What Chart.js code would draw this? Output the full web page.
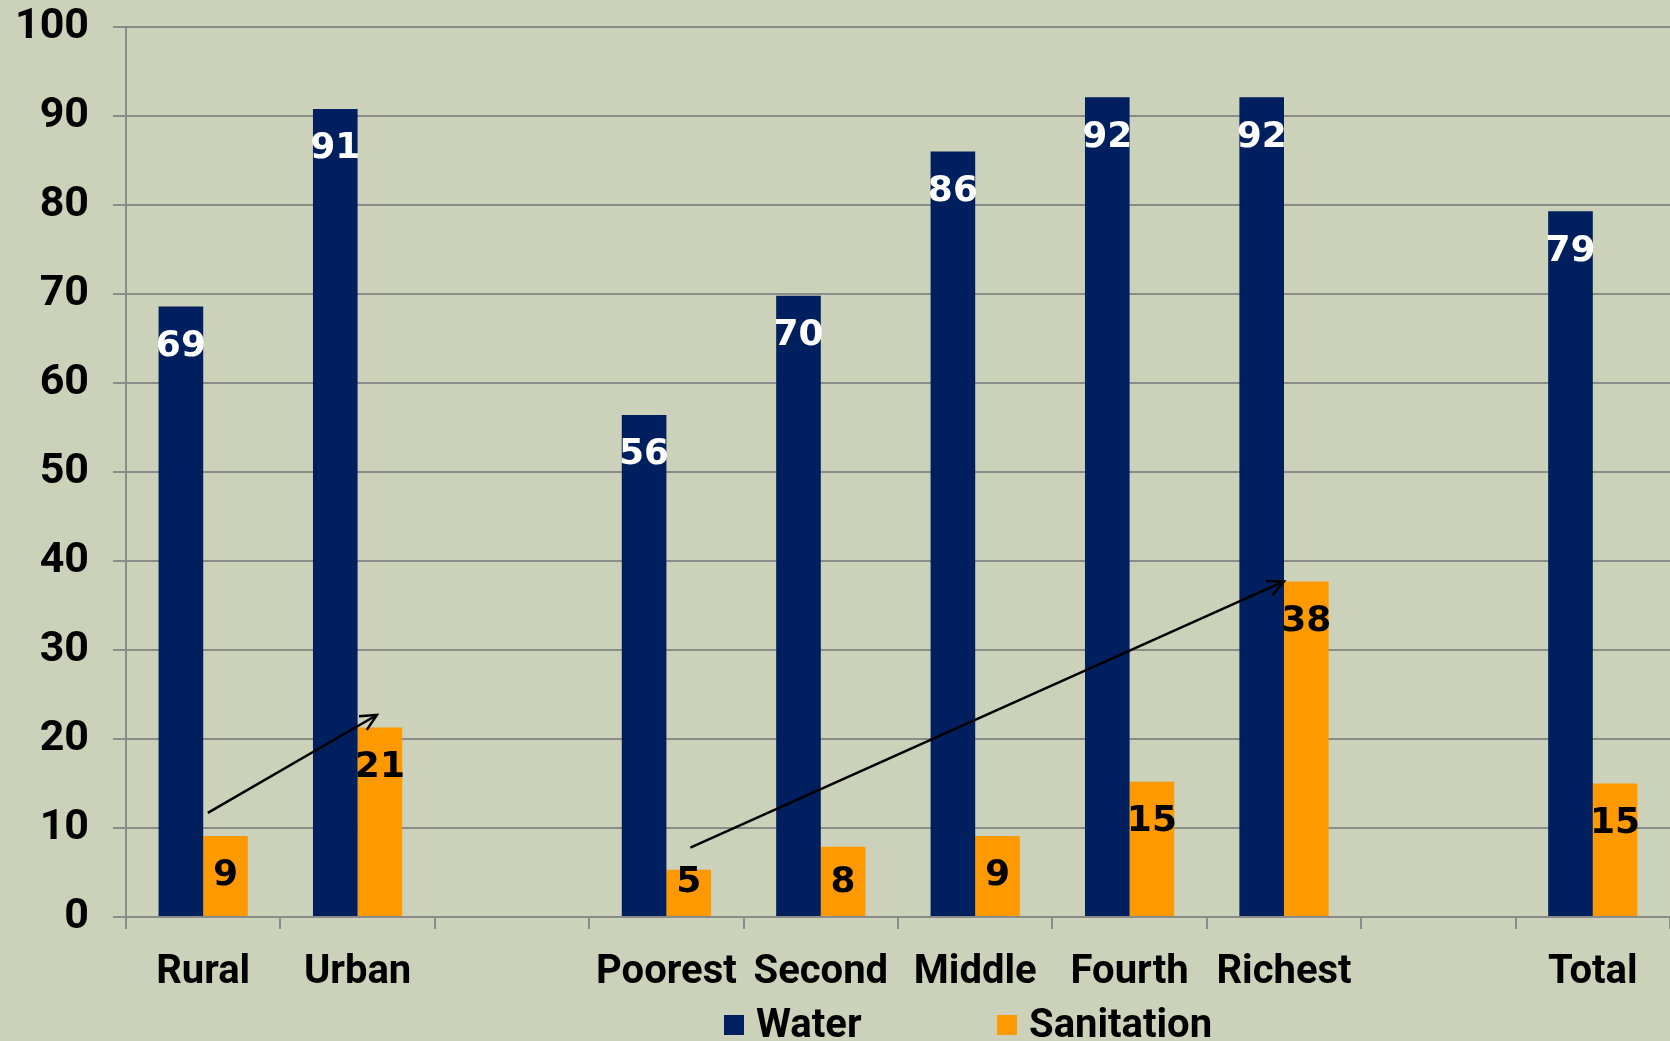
<!DOCTYPE html>
<html>
<head>
<meta charset="utf-8">
<script src="https://cdn.jsdelivr.net/npm/chart.js@4.4.1/dist/chart.umd.min.js"></script>
<style>
  html, body { margin: 0; padding: 0; background: #CCD1B9; overflow: hidden; }
  #wrap { width: 1670px; height: 1041px; position: relative; }
</style>
</head>
<body>
<div id="wrap"><canvas id="accessChart"></canvas></div>
<script>
// Categories (blank slots are the gaps between groups)
const categories = ['Rural', 'Urban', '', 'Poorest', 'Second', 'Middle', 'Fourth', 'Richest', '', 'Total'];

// Series values (%)
const waterValues = [68.6, 90.8, null, 56.4, 69.8, 86.0, 92.1, 92.1, null, 79.3];
const sanitationValues = [9.1, 21.3, null, 5.3, 7.9, 9.1, 15.2, 37.7, null, 15.0];

// Y axis range
const yMin = 0;
const yMax = 100;
const yStep = 10;

// Arrows: [category index (fractional), value]
const arrowStarts = [[0.03, 11.7], [3.155, 7.8]];
const arrowEnds = [[1.125, 22.7], [7.0, 37.7]];

const waterColor = '#001F5F';
const sanColor = '#FF9900';
const gridColor = '#8A8C88';
const xFont = { family: 'Roboto', size: 40, weight: 'bold' };
const yFont = { family: 'Roboto', size: 43, weight: 'bold' };

// Value labels inside the top of each bar
const barLabels = {
  id: 'barLabels',
  afterDatasetsDraw(chart) {
    const ctx = chart.ctx;
    const base = chart.scales.y.getPixelForValue(0);
    ctx.save();
    ctx.font = 'bold 36px "DejaVu Sans"';
    ctx.textAlign = 'center';
    ctx.textBaseline = 'middle';
    chart.data.datasets.forEach((ds, i) => {
      const meta = chart.getDatasetMeta(i);
      ctx.fillStyle = i === 0 ? '#FFFFFF' : '#000000';
      meta.data.forEach((bar, j) => {
        const v = ds.data[j];
        if (v == null) return;
        const ly = Math.min(bar.y + 40, base - 34);
        ctx.fillText(Math.round(v), bar.x, ly);
      });
    });
    ctx.restore();
  }
};

// Trend arrows
const trendArrows = {
  id: 'trendArrows',
  afterDatasetsDraw(chart) {
    const ctx = chart.ctx;
    const x = chart.scales.x;
    const y = chart.scales.y;
    ctx.save();
    ctx.strokeStyle = '#000';
    ctx.lineWidth = 2.5;
    arrowStarts.forEach((s, i) => {
      const e = arrowEnds[i];
      const x1 = x.getPixelForValue(s[0]), y1 = y.getPixelForValue(s[1]);
      const x2 = x.getPixelForValue(e[0]), y2 = y.getPixelForValue(e[1]);
      ctx.beginPath();
      ctx.moveTo(x1, y1);
      ctx.lineTo(x2, y2);
      ctx.stroke();
      const ang = Math.atan2(y2 - y1, x2 - x1);
      const len = 18;
      ctx.beginPath();
      ctx.moveTo(x2 - len * Math.cos(ang - 0.45), y2 - len * Math.sin(ang - 0.45));
      ctx.lineTo(x2, y2);
      ctx.lineTo(x2 - len * Math.cos(ang + 0.45), y2 - len * Math.sin(ang + 0.45));
      ctx.stroke();
    });
    ctx.restore();
  }
};

// Legend under the axis labels
const bottomLegend = {
  id: 'bottomLegend',
  afterDraw(chart) {
    const ctx = chart.ctx;
    const top = chart.chartArea.bottom;
    const boxX = [724, 997];
    ctx.save();
    ctx.font = 'bold 40px Roboto';
    ctx.textBaseline = 'middle';
    chart.data.datasets.forEach((ds, i) => {
      ctx.fillStyle = ds.backgroundColor;
      ctx.fillRect(boxX[i], top + 98, 20, 20);
      ctx.fillStyle = '#000';
      ctx.fillText(ds.label, boxX[i] + 32, top + 110);
    });
    ctx.restore();
  }
};

const ctx = document.getElementById('accessChart').getContext('2d');
new Chart(ctx, {
  type: 'bar',
  data: {
    labels: categories,
    datasets: [
      { label: 'Water', data: waterValues, backgroundColor: waterColor },
      { label: 'Sanitation', data: sanitationValues, backgroundColor: sanColor }
    ]
  },
  options: {
    responsive: true,
    maintainAspectRatio: false,
    animation: false,
    layout: { padding: { top: 27, right: 0, bottom: 0, left: 0 } },
    datasets: {
      bar: { barPercentage: 1, categoryPercentage: 0.578 }
    },
    plugins: {
      legend: { display: false },
      tooltip: { enabled: false }
    },
    scales: {
      x: {
        grid: { drawOnChartArea: false, drawTicks: true, tickLength: 12, color: gridColor, lineWidth: 2 },
        border: { color: gridColor, width: 2 },
        ticks: { color: '#000', font: xFont, padding: 20, maxRotation: 0, autoSkip: false },
        afterFit(scale) { scale.height = 124; }
      },
      y: {
        min: yMin,
        max: yMax,
        ticks: { stepSize: yStep, color: '#000', font: yFont, padding: 24 },
        grid: { color: gridColor, lineWidth: 2, tickLength: 13 },
        border: { color: gridColor, width: 2 },
        afterFit(scale) {
          scale.width = 126;
          scale.paddingTop = 0;
          scale.paddingBottom = 0;
        }
      }
    }
  },
  plugins: [barLabels, trendArrows, bottomLegend]
});
</script>
</body>
</html>
